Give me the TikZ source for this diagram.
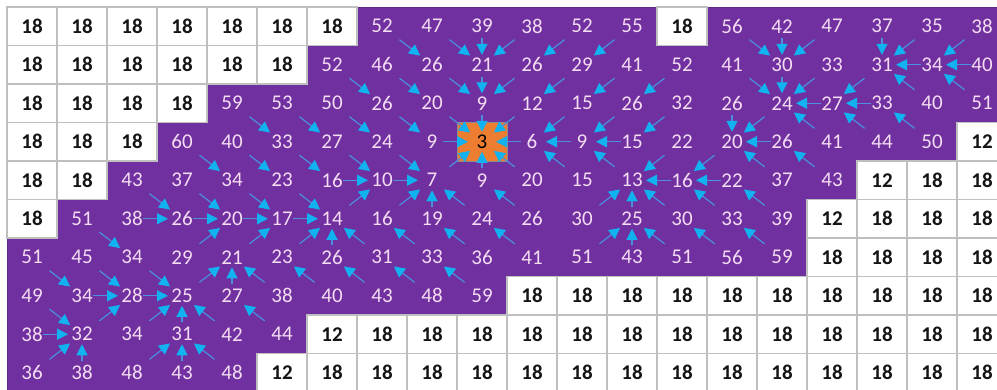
\documentclass[tikz,border=0pt]{standalone}
\usepackage{fontspec}
\setmainfont{Carlito}
\usetikzlibrary{arrows.meta}
\definecolor{purp}{HTML}{7030A0}
\definecolor{ptext}{HTML}{F4DCF2}
\definecolor{cy}{HTML}{12B2F0}
\definecolor{cyline}{HTML}{4A8FE0}
\definecolor{org}{HTML}{ED7D31}
\definecolor{gridg}{HTML}{BFBFBF}
\tikzset{
  wcell/.style={draw=gridg, line width=1.4pt, fill=white},
  wtext/.style={font=\fontsize{21}{25}\selectfont\bfseries, text={black!92}, inner sep=0pt},
  ptx/.style={font=\fontsize{21}{25}\selectfont, text=ptext, inner sep=0pt},
  otx/.style={font=\fontsize{21}{25}\selectfont, text=black, inner sep=0pt},
  ocell/.style={draw={black!45}, line width=0.8pt, fill=org, inner sep=0pt, minimum width=50pt, minimum height=38.5pt},
  arr/.style={draw=cyline, line width=1.2pt, -{Triangle[length=11pt,width=11pt,color=cy]}},
}
\def\kindW{w}
\def\kindO{o}
% #1 = row index, #2 = list kind/value
\newcommand\gridrow[2]{%
  \foreach \kk/\vv [count=\cnum from 0] in {#2} {%
    \edef\kind{\kk}%
    \ifx\kind\kindW
      \draw[wcell] (\cnum,#1) rectangle ++(1,1);
      \node[wtext] (n-#1-\cnum) at ({\cnum+0.5},{#1+0.5}) {\vv};
    \else
      \ifx\kind\kindO
        \node[ocell] (bg-#1-\cnum) at ({\cnum+0.5},{#1+0.5}) {};
        \node[otx] (n-#1-\cnum) at ({\cnum+0.5},{#1+0.5}) {\vv};
      \else
        \node[ptx] (n-#1-\cnum) at ({\cnum+0.5},{#1+0.5}) {\vv};
      \fi
    \fi
  }%
}
\begin{document}
\begin{tikzpicture}[x=1pt,y=1pt]
\useasboundingbox (0,0) rectangle (997,-389);
\clip (0,0) rectangle (997,-389);
\fill[white] (0,0) rectangle (997,-389);
\begin{scope}[shift={(7pt,-7pt)}, x=50pt, y=-38.5pt]
  \filldraw[fill=purp, draw=purp!85!black, line width=0.8pt]
    (7,0) -- (13,0) -- (13,1) -- (14,1) -- (14,0) -- (20,0) -- (20,3) -- (19,3) -- (19,4)
    -- (17,4) -- (17,5) -- (16,5) -- (16,7) -- (10,7) -- (10,8) -- (6,8) -- (6,9) -- (5,9)
    -- (5,10) -- (0,10) -- (0,6) -- (1,6) -- (1,5) -- (2,5) -- (2,4) -- (3,4) -- (3,3)
    -- (4,3) -- (4,2) -- (6,2) -- (6,1) -- (7,1) -- cycle;
  \gridrow{0}{w/18,w/18,w/18,w/18,w/18,w/18,w/18,p/52,p/47,p/39,p/38,p/52,p/55,w/18,p/56,p/42,p/47,p/37,p/35,p/38}
  \gridrow{1}{w/18,w/18,w/18,w/18,w/18,w/18,p/52,p/46,p/26,p/21,p/26,p/29,p/41,p/52,p/41,p/30,p/33,p/31,p/34,p/40}
  \gridrow{2}{w/18,w/18,w/18,w/18,p/59,p/53,p/50,p/26,p/20,p/9,p/12,p/15,p/26,p/32,p/26,p/24,p/27,p/33,p/40,p/51}
  \gridrow{3}{w/18,w/18,w/18,p/60,p/40,p/33,p/27,p/24,p/9,o/3,p/6,p/9,p/15,p/22,p/20,p/26,p/41,p/44,p/50,w/12}
  \gridrow{4}{w/18,w/18,p/43,p/37,p/34,p/23,p/16,p/10,p/7,p/9,p/20,p/15,p/13,p/16,p/22,p/37,p/43,w/12,w/18,w/18}
  \gridrow{5}{w/18,p/51,p/38,p/26,p/20,p/17,p/14,p/16,p/19,p/24,p/26,p/30,p/25,p/30,p/33,p/39,w/12,w/18,w/18,w/18}
  \gridrow{6}{p/51,p/45,p/34,p/29,p/21,p/23,p/26,p/31,p/33,p/36,p/41,p/51,p/43,p/51,p/56,p/59,w/18,w/18,w/18,w/18}
  \gridrow{7}{p/49,p/34,p/28,p/25,p/27,p/38,p/40,p/43,p/48,p/59,w/18,w/18,w/18,w/18,w/18,w/18,w/18,w/18,w/18,w/18}
  \gridrow{8}{p/38,p/32,p/34,p/31,p/42,p/44,w/12,w/18,w/18,w/18,w/18,w/18,w/18,w/18,w/18,w/18,w/18,w/18,w/18,w/18}
  \gridrow{9}{p/36,p/38,p/48,p/43,p/48,w/12,w/18,w/18,w/18,w/18,w/18,w/18,w/18,w/18,w/18,w/18,w/18,w/18,w/18,w/18}
  \foreach \ra/\ca/\dr/\dc in {
    0/7/1/1, 0/8/1/1, 0/9/1/0, 0/10/1/-1, 0/11/1/-1, 0/12/1/-1,
    0/14/1/1, 0/15/1/0, 0/16/1/-1, 0/17/1/0, 0/18/1/-1, 0/19/1/-1,
    1/6/1/1, 1/7/1/1, 1/8/1/1, 1/9/1/0, 1/10/1/-1, 1/11/1/-1, 1/12/1/-1, 1/13/1/-1,
    1/14/1/1, 1/15/1/0, 1/16/1/-1, 1/17/1/-1, 1/18/0/-1, 1/19/0/-1,
    2/4/1/1, 2/5/1/1, 2/6/1/1, 2/7/1/1, 2/8/1/1, 2/9/1/0, 2/10/1/-1, 2/11/1/-1,
    2/12/1/-1, 2/13/1/-1, 2/14/1/0, 2/15/1/-1, 2/16/0/-1, 2/17/0/-1, 2/18/-1/-1, 2/19/-1/-1,
    3/3/1/1, 3/4/1/1, 3/5/1/1, 3/6/1/1, 3/7/1/1, 3/8/0/1, 3/10/0/-1, 3/11/0/-1, 3/12/0/-1,
    3/13/1/-1, 3/14/1/-1, 3/15/0/-1, 3/16/-1/-1, 3/17/-1/-1, 3/18/-1/-1,
    4/2/1/1, 4/3/1/1, 4/4/1/1, 4/5/1/1, 4/6/0/1, 4/7/0/1, 4/8/-1/1, 4/9/-1/0, 4/10/-1/-1,
    4/11/-1/-1, 4/12/-1/-1, 4/13/0/-1, 4/14/0/-1, 4/15/-1/-1, 4/16/-1/-1,
    5/1/1/1, 5/2/0/1, 5/3/0/1, 5/4/0/1, 5/5/0/1, 5/6/-1/1, 5/7/-1/1, 5/8/-1/0, 5/9/-1/-1,
    5/10/-1/-1, 5/11/-1/1, 5/12/-1/0, 5/13/-1/-1, 5/14/-1/-1, 5/15/-1/-1,
    6/0/1/1, 6/1/1/1, 6/2/1/1, 6/3/-1/1, 6/4/-1/1, 6/5/-1/1, 6/6/-1/0, 6/7/-1/-1, 6/8/-1/-1,
    6/9/-1/-1, 6/10/-1/-1, 6/11/-1/1, 6/12/-1/0, 6/13/-1/-1, 6/14/-1/-1, 6/15/-1/-1,
    7/0/1/1, 7/1/0/1, 7/2/0/1, 7/3/-1/1, 7/4/-1/0, 7/5/-1/-1, 7/6/-1/-1, 7/7/-1/-1, 7/8/-1/-1, 7/9/-1/-1,
    8/0/0/1, 8/1/-1/1, 8/2/-1/1, 8/3/-1/0, 8/4/-1/-1, 8/5/-1/-1,
    9/0/-1/1, 9/1/-1/0, 9/2/-1/1, 9/3/-1/0, 9/4/-1/-1
  }{
    \pgfmathtruncatemacro\rb{\ra+\dr}
    \pgfmathtruncatemacro\cb{\ca+\dc}
    \pgfmathtruncatemacro\ty{abs(\dr)*2+abs(\dc)}
    \ifcase\ty\or\def\sa{11pt}\def\sb{14pt}\or\def\sa{12pt}\def\sb{10pt}\or\def\sa{22pt}\def\sb{15pt}\fi
    \draw[arr, shorten <=\sa, shorten >=\sb] (n-\ra-\ca.center) -- (n-\rb-\cb.center);
  }
\end{scope}
\end{tikzpicture}
\end{document}
